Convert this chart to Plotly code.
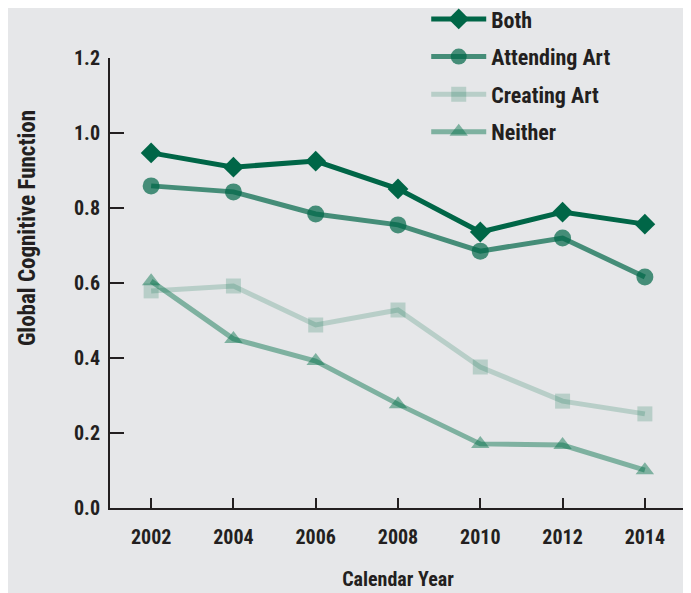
import plotly.graph_objects as go

years = [2002, 2004, 2006, 2008, 2010, 2012, 2014]
both = [0.947, 0.909, 0.925, 0.851, 0.736, 0.789, 0.757]
attending = [0.859, 0.843, 0.784, 0.755, 0.685, 0.720, 0.616]
creating = [0.579, 0.592, 0.488, 0.528, 0.376, 0.285, 0.251]
neither = [0.605, 0.451, 0.392, 0.277, 0.171, 0.168, 0.101]

series = [
    ("Both", both, "rgba(0,102,71,1)", "diamond", 16),
    ("Attending Art", attending, "rgba(0,102,71,0.7)", "circle", 17),
    ("Creating Art", creating, "rgba(0,110,70,0.2)", "square", 15),
    ("Neither", neither, "rgba(0,110,70,0.45)", "triangle-up", 16),
]

FONT = "Roboto Condensed, DejaVu Sans Condensed, Roboto, sans-serif"

fig = go.Figure()
for i, (name, vals, col, sym, sz) in enumerate(series):
    fig.add_trace(go.Scatter(
        x=years, y=vals, name=name, mode="lines+markers",
        legendgroup=str(i),
        line=dict(color=col, width=5),
        marker=dict(symbol=sym, size=sz, color=col, line=dict(width=0)),
    ))

fig.update_layout(
    width=691, height=593,
    paper_bgcolor="#e6e7e9", plot_bgcolor="#e6e7e9",
    margin=dict(l=102, r=13, t=50, b=93, autoexpand=False),
    font=dict(family=FONT, color="#231f20", size=18),
    showlegend=True,
    legend=dict(
        x=0.549, y=1.133, xanchor="left", yanchor="top",
        bgcolor="rgba(0,0,0,0)", tracegroupgap=6,
        font=dict(size=22, family=FONT, weight="bold"),
        itemwidth=55,
    ),
    xaxis=dict(
        range=[2001.0, 2015.0], tickvals=years,
        ticks="inside", ticklen=10, tickwidth=2, tickcolor="#231f20",
        showline=True, linecolor="#231f20", linewidth=2,
        showgrid=False, zeroline=False, automargin=False,
        ticklabelstandoff=10,
        tickfont=dict(size=20, weight="bold"),
        title=dict(text="Calendar Year", font=dict(size=20, weight="bold"), standoff=24),
    ),
    yaxis=dict(
        range=[0, 1.2], tickvals=[0, 0.2, 0.4, 0.6, 0.8, 1.0, 1.2],
        tickformat=".1f",
        ticks="inside", ticklen=14, tickwidth=2, tickcolor="#231f20",
        showline=True, linecolor="#231f20", linewidth=2,
        showgrid=False, zeroline=False, automargin=False,
        ticklabelstandoff=4,
        tickfont=dict(size=20, weight="bold"),
    ),
    annotations=[dict(
        text="Global Cognitive Function", textangle=-90,
        xref="paper", yref="paper", x=0, y=0.622,
        xanchor="center", yanchor="middle", xshift=-83, showarrow=False,
        font=dict(size=23, weight="bold", family=FONT, color="#231f20"),
    )],
)

fig.write_html("out.html")
